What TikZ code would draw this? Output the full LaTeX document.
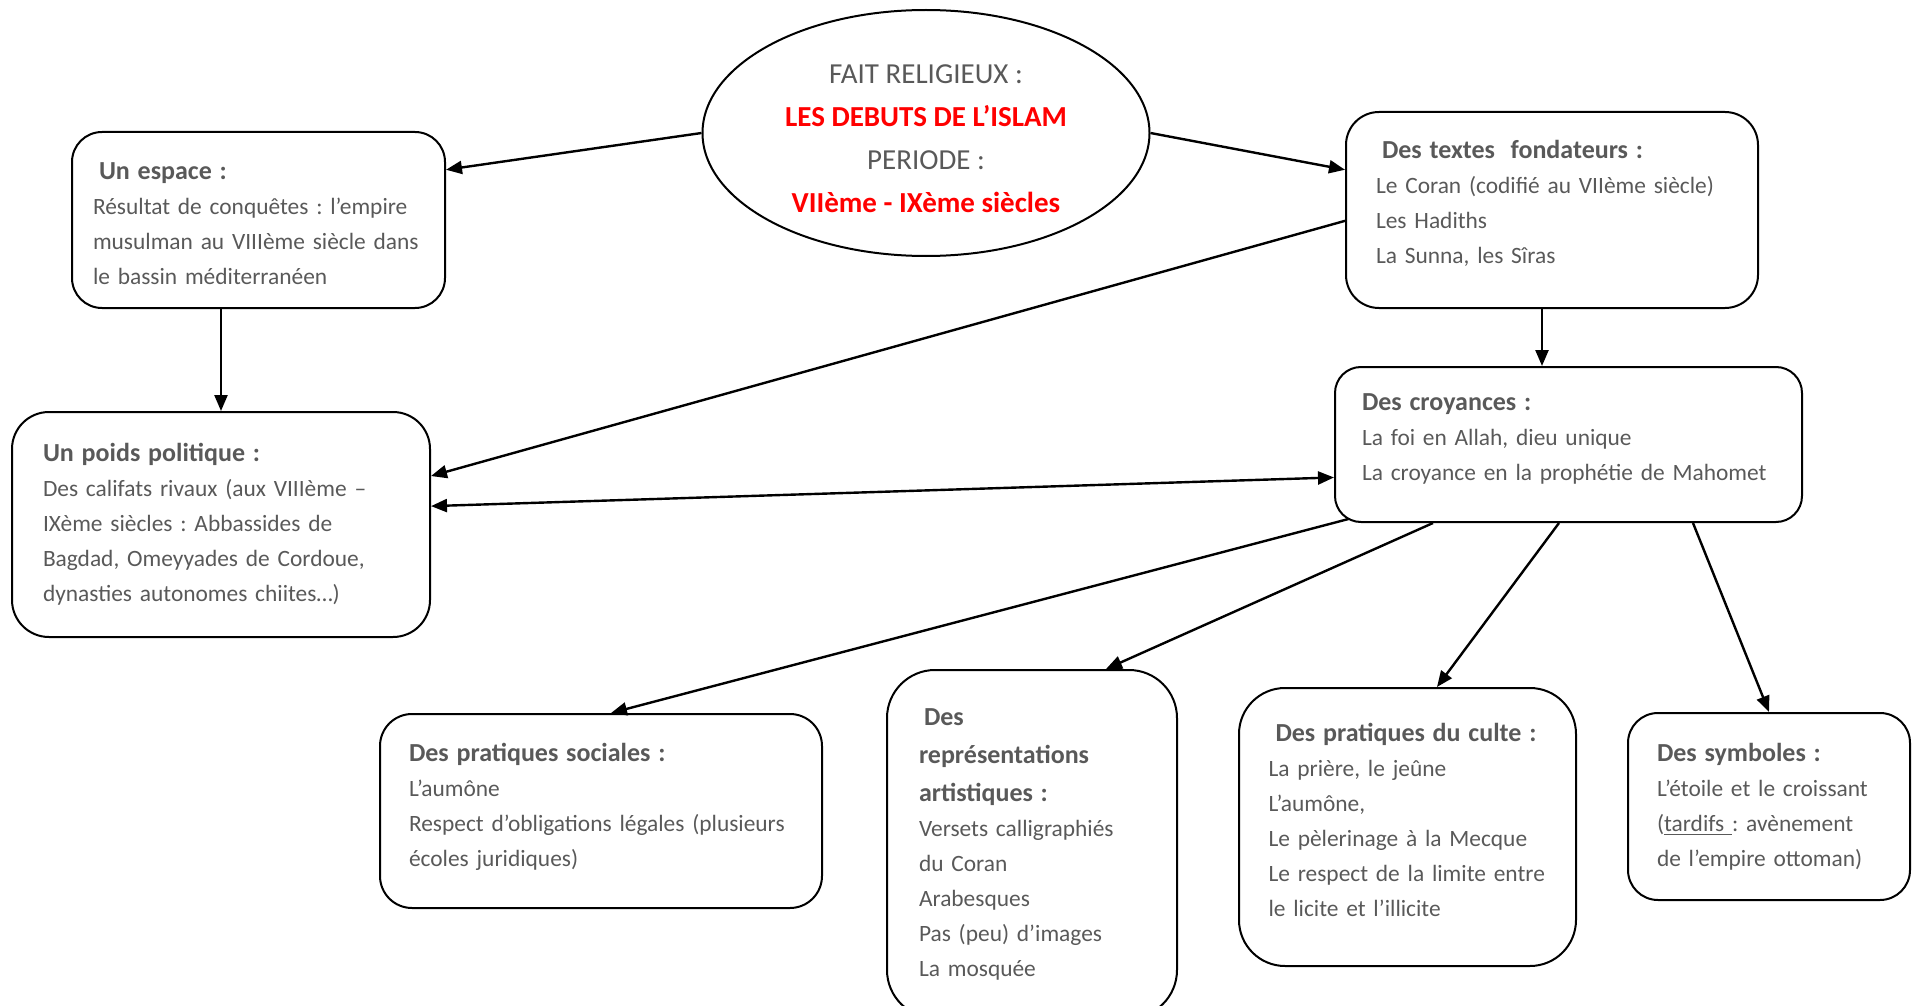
\documentclass[tikz,border=0pt]{standalone}
\usepackage{fontspec}
\setmainfont{Carlito}
\usetikzlibrary{arrows.meta,shapes.geometric}
\definecolor{textgray}{HTML}{595959}
\definecolor{islamred}{HTML}{FF0000}
\frenchspacing
\hyphenpenalty=10000
\newcommand{\boxtitle}[1]{{\fontsize{13}{19}\selectfont\bfseries #1}}
\newcommand{\lowpad}[1]{\rule[-#1]{0pt}{0pt}}

\begin{document}
\begin{tikzpicture}[x=0.5pt,y=-0.5pt,
    >={Triangle[length=8pt,width=6.5pt]},
    box/.style={draw,line width=1pt,rounded corners=15pt,align=left,inner xsep=0pt,
      text=textgray,font=\fontsize{11.7}{17.5}\selectfont},
    link/.style={line width=1.2pt}]
  \useasboundingbox (0,0) rectangle (1913,1006);
  \node[draw,ellipse,line width=1pt,minimum width=223.5pt,minimum height=123pt,align=center,
    text=textgray,font=\fontsize{14.5}{21.5}\selectfont] (fait) at (926,133)
    {\rule{0pt}{15.3pt}FAIT RELIGIEUX :\\ \textcolor{islamred}{\bfseries LES DEBUTS DE L’ISLAM}\\ PERIODE :\\
     \textcolor{islamred}{\bfseries VIIème - IXème siècles}};
  \node[box,minimum width=186.5pt,minimum height=88pt,text width=165.5pt] (espace) at (258.5,220)
    {\boxtitle{\rule{0pt}{12pt}\hspace*{3pt}Un espace :}\\ Résultat de conquêtes : l’empire\\
     musulman au VIIIème siècle dans\\ le bassin méditerranéen};
  \node[box,rounded corners=18.5pt,minimum width=209pt,minimum height=112.5pt,text width=178pt] (poids) at (221,524.5)
    {\boxtitle{Un poids politique :}\\ Des califats rivaux (aux VIIIème –\\ IXème siècles : Abbassides de\\
     Bagdad, Omeyyades de Cordoue,\\ dynasties autonomes chiites…)};
  \node[box,rounded corners=16.5pt,minimum width=206pt,minimum height=98pt,text width=176pt] (textes) at (1552,210)
    {\boxtitle{\hspace*{3pt}Des textes\ \ fondateurs :}\\ Le Coran (codifié au VIIème siècle)\\
     Les Hadiths\\ La Sunna, les Sîras\lowpad{8pt}};
  \node[box,rounded corners=13pt,minimum width=233.5pt,minimum height=77.5pt,text width=206.5pt] (croy) at (1568.5,444.5)
    {\boxtitle{Des croyances :}\\ La foi en Allah, dieu unique\\ La croyance en la prophétie de Mahomet\lowpad{7.5pt}};
  \node[box,rounded corners=16pt,minimum width=221pt,minimum height=97pt,text width=192pt] (soc) at (601,811)
    {\boxtitle{Des pratiques sociales :}\\ L’aumône\\ Respect d’obligations légales (plusieurs\\ écoles juridiques)\lowpad{6.5pt}};
  \node[box,rounded corners=24pt,minimum width=145pt,minimum height=174pt,text width=113pt] (art) at (1032,844)
    {\boxtitle{\hspace*{2.5pt}Des}\\[1.5pt] \boxtitle{représentations}\\[1.5pt] \boxtitle{artistiques :}\\
     Versets calligraphiés\\ du Coran\\ Arabesques\\ Pas (peu) d’images\\ La mosquée};
  \node[box,rounded corners=23pt,minimum width=168.5pt,minimum height=139pt,text width=139pt] (culte) at (1407.5,827)
    {\boxtitle{\hspace*{3.5pt}Des pratiques du culte :}\\ La prière, le jeûne\\ L’aumône,\\
     Le pèlerinage à la Mecque\\ Le respect de la limite entre\\ le licite et l’illicite\lowpad{7pt}};
  \node[box,minimum width=141pt,minimum height=93.5pt,text width=112pt] (symb) at (1769,806.5)
    {\boxtitle{Des symboles :}\\ L’étoile et le croissant\\ (\underline{tardifs\ }: avènement\\ de l’empire ottoman)};
  \draw[->,link] (fait.west) -- (espace.15);
  \draw[->,link] (fait.east) -- (textes.169);
  \draw[->,link] (textes.183) -- (poids.13);
  \draw[->,link] (espace.south -| poids.north) -- (poids.north);
  \draw[->,link] ([xshift=-5pt]textes.south) -- ([xshift=-5pt]textes.south |- croy.north);
  \draw[<->,link] (croy.188) -- (poids.5);
  \draw[->,link] ([xshift=-110pt,yshift=2pt]croy.south) -- ([xshift=5pt]soc.north);
  \draw[->,link] ([xshift=-67.75pt]croy.south) -- ([xshift=37pt]art.north);
  \draw[->,link] ([xshift=-4.75pt]croy.south) -- ([xshift=14.75pt]culte.north);
  \draw[->,link] ([xshift=62.25pt]croy.south) -- (symb.north);
\end{tikzpicture}
\end{document}
